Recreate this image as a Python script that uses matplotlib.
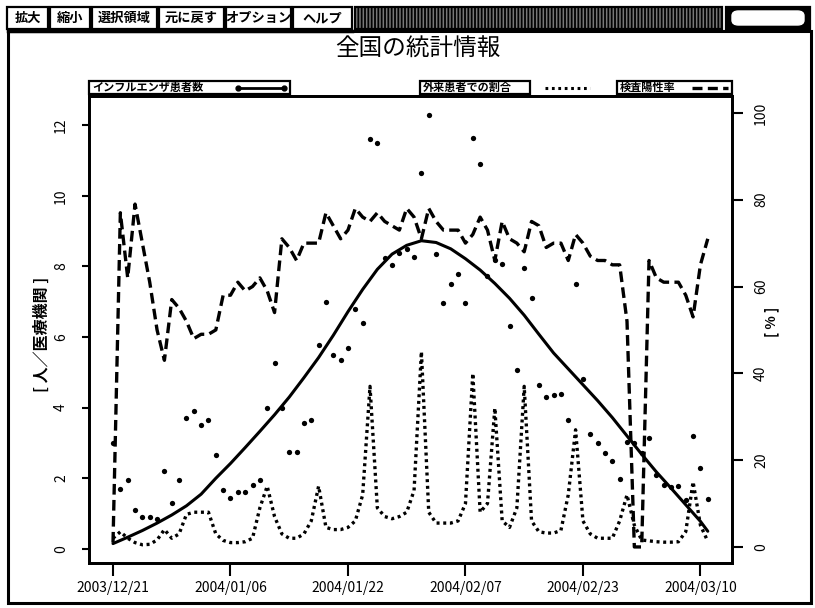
import numpy as np
import pandas as pd
import matplotlib
matplotlib.use('Agg')
import matplotlib.pyplot as plt
import matplotlib.dates as mdates
from matplotlib.patches import Rectangle, FancyBboxPatch
from matplotlib.lines import Line2D

plt.rcParams['font.family'] = ['Noto Sans CJK JP', 'DejaVu Sans']
plt.rcParams['hatch.linewidth'] = 1.3

# ---------------- data ----------------
start_date = '2003-12-21'

# インフルエンザ患者数 (人/医療機関), daily points
patients = [3.0, 1.7, 1.95, 1.1, 0.9, 0.9, 0.85, 2.2, 1.3, 1.95,
            3.7, 3.9, 3.5, 3.65, 2.66, 1.67, 1.44, 1.6, 1.6, 1.8,
            1.95, 4.0, 5.27, 4.0, 2.75, 2.75, 3.57, 3.65, 5.78, 7.0,
            5.5, 5.35, 5.7, 6.8, 6.4, 11.6, 11.5, 8.24, 8.05, 8.39,
            8.5, 8.27, 10.65, 12.3, 8.36, 6.97, 7.5, 7.79, 6.97, 11.65,
            10.9, 7.73, 8.19, 8.07, 6.32, 5.07, 7.96, 7.1, 4.65, 4.3,
            4.36, 4.4, 3.65, 7.5, 4.8, 3.26, 3.0, 2.72, 2.5, 1.98,
            3.03, 3.0, 2.72, 3.15, 2.1, 1.8, 1.75, 1.78, 1.39, 3.2,
            2.3, 1.42]

# trend curve of インフルエンザ患者数 (read every 2 days)
trend_days = [0, 2, 4, 6, 8, 10, 12, 14, 16, 18, 20, 22, 24, 26, 28, 30,
              32, 34, 36, 38, 40, 42, 44, 46, 48, 50, 52, 54, 56, 58, 60,
              62, 64, 66, 68, 70, 72, 74, 76, 78, 80, 81]
trend_vals = [0.15, 0.33, 0.52, 0.73, 0.96, 1.22, 1.55, 2.0, 2.42, 2.87,
              3.33, 3.8, 4.3, 4.85, 5.42, 6.05, 6.72, 7.35, 7.92, 8.35,
              8.6, 8.73, 8.68, 8.5, 8.22, 7.9, 7.52, 7.1, 6.62, 6.08,
              5.55, 5.1, 4.65, 4.2, 3.72, 3.2, 2.68, 2.18, 1.72, 1.25,
              0.78, 0.5]

# 外来患者での割合 (%)
outpatient_pct = [2, 3.5, 2, 1, 0.5, 0.6, 1.6, 4, 2, 3,
                  7.5, 8, 8, 8, 3, 1.5, 1, 1, 1.2, 2,
                  9, 14, 7, 3, 2, 2, 3, 6, 14, 4.5,
                  4, 4, 4.5, 6, 12, 37, 9, 7, 6.5, 7,
                  8, 13, 45, 8, 5.5, 5.5, 5.5, 6, 10, 40,
                  8, 10, 32, 6, 4.5, 9, 37, 6, 3.5, 3.2,
                  3.2, 3.8, 12, 27, 6, 3, 2, 2, 2, 6,
                  12, 5, 1.6, 1.4, 1.2, 1.1, 1.1, 1.2, 3.5, 15,
                  5, 1.3]

# 検査陽性率 (%)
positive_pct = [1, 77, 62, 79, 70, 61, 50, 43, 57, 55,
                52, 48, 49, 49, 50, 58, 58, 61, 59, 60,
                62, 59, 54, 71, 69, 66, 70, 70, 70, 77,
                74, 71, 73, 78, 76, 75, 77, 75, 74, 73,
                78, 76, 71, 78, 75, 73, 73, 73, 70, 72,
                76, 73, 66, 75, 71, 70, 68, 75, 74, 69,
                70, 70, 66, 72, 70, 67, 66, 66, 65, 65,
                52, 0, 0, 66, 62, 61, 61, 61, 58, 53,
                65, 71]

tick_labels = ['2003/12/21', '2004/01/06', '2004/01/22',
               '2004/02/07', '2004/02/23', '2004/03/10']
left_ticks = [0, 2, 4, 6, 8, 10, 12]
right_ticks = [0, 20, 40, 60, 80, 100]

title = '全国の統計情報'
buttons = ['拡大', '縮小', '選択領域', '元に戻す', 'オプション', 'ヘルプ']
legend_labels = ['インフルエンザ患者数', '外来患者での割合', '検査陽性率']

# ---------------- figure ----------------
W, H = 815, 608
fig = plt.figure(figsize=(W / 100, H / 100), dpi=100)


def fx(x):
    return x / W


def fy(y):
    return 1 - y / H


t0 = pd.Timestamp(start_date)
dates = pd.date_range(start_date, periods=len(patients), freq='D')
trend_dates = t0 + pd.to_timedelta(trend_days, unit='D')
tick_dates = pd.to_datetime(tick_labels, format='%Y/%m/%d')

ax = fig.add_axes([fx(89), fy(563), fx(732) - fx(89), fy(96) - fy(563)])
ax2 = ax.twinx()

ax.plot(trend_dates, trend_vals, color='black', lw=2.2, solid_capstyle='round',
        solid_joinstyle='round')
ax.plot(dates, patients, 'o', color='black', ms=3.8, mew=0)

ax2.plot(dates, positive_pct, color='black', lw=2.4, dashes=(3.2, 1.6))
ax2.plot(dates, outpatient_pct, color='black', lw=2.4, dashes=(0.9, 1.1))

xmin = mdates.date2num(t0 - pd.Timedelta(days=3.27))
xmax = mdates.date2num(t0 + pd.Timedelta(days=84.3))
ax.set_xlim(xmin, xmax)
ax.set_ylim(-0.4, 12.83)
ax2.set_ylim(-3.7, 103.9)

ax.set_xticks(tick_dates)
ax.set_xticklabels(tick_labels, fontsize=10)
ax.set_yticks(left_ticks)
ax.set_yticklabels([str(v) for v in left_ticks], fontsize=10, rotation=90,
                   va='center')
ax2.set_yticks(right_ticks)
ax2.set_yticklabels([str(v) for v in right_ticks], fontsize=10, rotation=90,
                    va='center')

ax.tick_params(axis='x', direction='out', length=9, width=1.5, pad=4)
ax.tick_params(axis='y', direction='out', length=5, width=1.5, pad=10)
ax2.tick_params(axis='y', direction='out', length=8, width=1.5, pad=8)
for a in (ax, ax2):
    for s in a.spines.values():
        s.set_linewidth(2)

fig.text(fx(42), fy(334), '[ 人／医療機関 ]', rotation=90, ha='center',
         va='center', fontsize=11.5, fontweight='bold')
fig.text(fx(772), fy(322), '[ % ]', rotation=90, ha='center', va='center',
         fontsize=10, fontweight='bold')
fig.text(fx(418), fy(49), title, ha='center', va='center', fontsize=17)

# outer frame
fig.patches.append(Rectangle((fx(8), fy(603)), fx(811) - fx(8), fy(31) - fy(603),
                             transform=fig.transFigure, fill=False,
                             edgecolor='black', lw=2.2))

# toolbar
btn_x = [(7, 48), (50, 90), (92, 157), (159, 224), (226, 291), (293, 352)]
for (x0, x1), lab in zip(btn_x, buttons):
    fig.patches.append(Rectangle((fx(x0), fy(29)), fx(x1) - fx(x0), fy(7) - fy(29),
                                 transform=fig.transFigure, facecolor='white',
                                 edgecolor='black', lw=1.6))
    fig.text(fx((x0 + x1) / 2), fy(18), lab, ha='center', va='center',
             fontsize=9.5, fontweight='bold')
fig.patches.append(Rectangle((fx(355), fy(29)), fx(722) - fx(355), fy(7) - fy(29),
                             transform=fig.transFigure, facecolor='#777777',
                             edgecolor='black', lw=1.6, hatch='|||||'))
fig.patches.append(Rectangle((fx(726), fy(29)), fx(810) - fx(726), fy(7) - fy(29),
                             transform=fig.transFigure, facecolor='black',
                             edgecolor='black', lw=1.6))
fig.patches.append(FancyBboxPatch((fx(732), fy(25)), fx(804) - fx(732),
                                  fy(11) - fy(25),
                                  boxstyle='round,pad=0,rounding_size=0.008',
                                  transform=fig.transFigure, facecolor='white',
                                  edgecolor='white', lw=1))
fig.lines.append(Line2D([fx(8), fx(352)], [fy(31), fy(31)], color='black',
                        lw=2.5, transform=fig.transFigure))

# legend boxes
ly0, ly1 = 81, 94
lyc = (ly0 + ly1) / 2


def box(x0, x1):
    fig.patches.append(Rectangle((fx(x0), fy(ly1)), fx(x1) - fx(x0), fy(ly0) - fy(ly1),
                                 transform=fig.transFigure, facecolor='white',
                                 edgecolor='black', lw=1.6))


box(89, 290)
fig.text(fx(92), fy(lyc), legend_labels[0], ha='left', va='center',
         fontsize=8, fontweight='bold')
fig.lines.append(Line2D([fx(238), fx(284)], [fy(lyc), fy(lyc)], color='black',
                        lw=2, marker='o', ms=3.5, markevery=[0, 1],
                        transform=fig.transFigure))

box(420, 530)
fig.text(fx(423), fy(lyc), legend_labels[1], ha='left', va='center',
         fontsize=8, fontweight='bold')
fig.lines.append(Line2D([fx(545), fx(590)], [fy(lyc), fy(lyc)], color='black',
                        lw=2.2, dashes=(0.9, 1.2), transform=fig.transFigure))

box(617, 732)
fig.text(fx(620), fy(lyc), legend_labels[2], ha='left', va='center',
         fontsize=8, fontweight='bold')
fig.lines.append(Line2D([fx(692), fx(728)], [fy(lyc), fy(lyc)], color='black',
                        lw=2.4, dashes=(3.0, 1.6), transform=fig.transFigure))

fig.savefig('out.png', dpi=100)
